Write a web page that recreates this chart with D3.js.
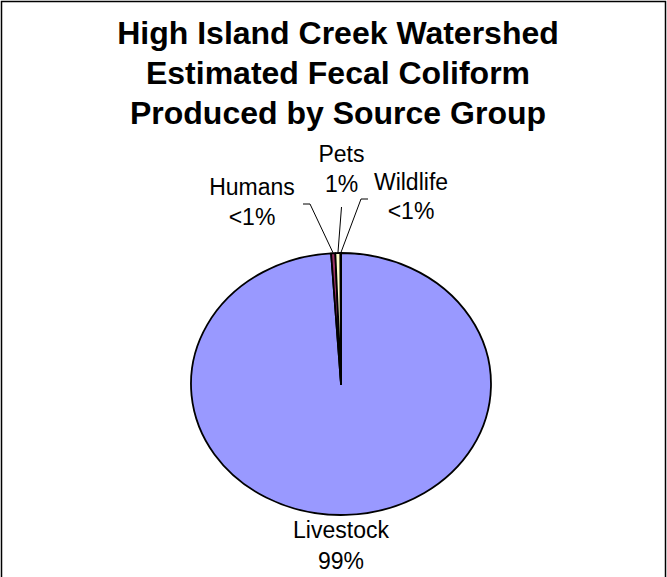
<!DOCTYPE html>
<html>
<head>
<meta charset="utf-8">
<script src="https://cdn.jsdelivr.net/npm/d3@7/dist/d3.min.js"></script>
<style>
  html, body { margin: 0; padding: 0; background: #fff; }
  svg { display: block; }
  text { font-family: "Liberation Sans", Arial, sans-serif; fill: #000; }
</style>
</head>
<body>
<svg id="chart" width="667" height="577"></svg>
<script>
// Source groups, in drawing order (clockwise from 12 o'clock)
const sources = ["Livestock", "Humans", "Pets", "Wildlife"];
// Share of fecal coliform produced, percent
const shares = [98.95, 0.45, 0.55, 0.05];
const colors = ["#9999FF", "#993366", "#FFFFCC", "#CCFFFF"];
const titleLines = [
  "High Island Creek Watershed",
  "Estimated Fecal Coliform",
  "Produced by Source Group"
];

const W = 667, H = 577;
const svg = d3.select("#chart");

// chart frame
svg.append("rect")
  .attr("x", 1.5).attr("y", 1.5)
  .attr("width", W - 3).attr("height", H + 10)
  .attr("fill", "#fff").attr("stroke", "#000").attr("stroke-width", 1.5);

// title
svg.append("g").selectAll("text")
  .data(titleLines)
  .join("text")
  .attr("x", 338)
  .attr("y", (d, i) => 44 + i * 40)
  .attr("text-anchor", "middle")
  .attr("font-size", 32)
  .attr("font-weight", "bold")
  .text(d => d);

// pie geometry (plot area is wider than tall, so the pie is an ellipse)
const cx = 341, cy = 384, rx = 150, ry = 131;
const ky = ry / rx;

const data = sources.map((s, i) => ({ name: s, value: shares[i], color: colors[i] }));
const pie = d3.pie().value(d => d.value).sort(null);
const arcs = pie(data);
const arc = d3.arc().innerRadius(0).outerRadius(rx);

const pieG = svg.append("g")
  .attr("transform", `translate(${cx},${cy}) scale(1,${ky})`);

pieG.selectAll("path")
  .data(arcs)
  .join("path")
  .attr("d", arc)
  .attr("fill", d => d.data.color)
  .attr("stroke", "#000")
  .attr("stroke-width", 1.8)
  .attr("stroke-linejoin", "round")
  .attr("vector-effect", "non-scaling-stroke");

// point on the pie rim at a slice's middle angle
function rimPoint(a) {
  const m = (a.startAngle + a.endAngle) / 2;
  return [cx + Math.sin(m) * rx, cy - Math.cos(m) * ry];
}

const pctText = v => {
  const r = Math.round(v);
  return r < 1 ? "<1%" : r + "%";
};

// label placement for each slice: text centre, first baseline, leader start
const labelLayout = {
  Livestock: { x: 341, y: 538, gap: 31, leader: null },
  Humans:    { x: 252, y: 195, gap: 30, leader: [[303, 204], [310, 204]] },
  Pets:      { x: 341.5, y: 162, gap: 30, leader: [[341.5, 207]] },
  Wildlife:  { x: 411, y: 190, gap: 29, leader: [[368, 199], [361, 199]] }
};

const labelG = svg.append("g");
arcs.forEach(a => {
  const L = labelLayout[a.data.name];
  if (L.leader) {
    const pts = L.leader.concat([rimPoint(a)]);
    labelG.append("path")
      .attr("d", d3.line()(pts))
      .attr("fill", "none")
      .attr("stroke", "#000")
      .attr("stroke-width", 1);
  }
  const t = labelG.append("text")
    .attr("text-anchor", "middle")
    .attr("font-size", 23);
  t.append("tspan").attr("x", L.x).attr("y", L.y).text(a.data.name);
  t.append("tspan").attr("x", L.x).attr("y", L.y + L.gap)
    .text(pctText(a.data.value));
});
</script>
</body>
</html>
